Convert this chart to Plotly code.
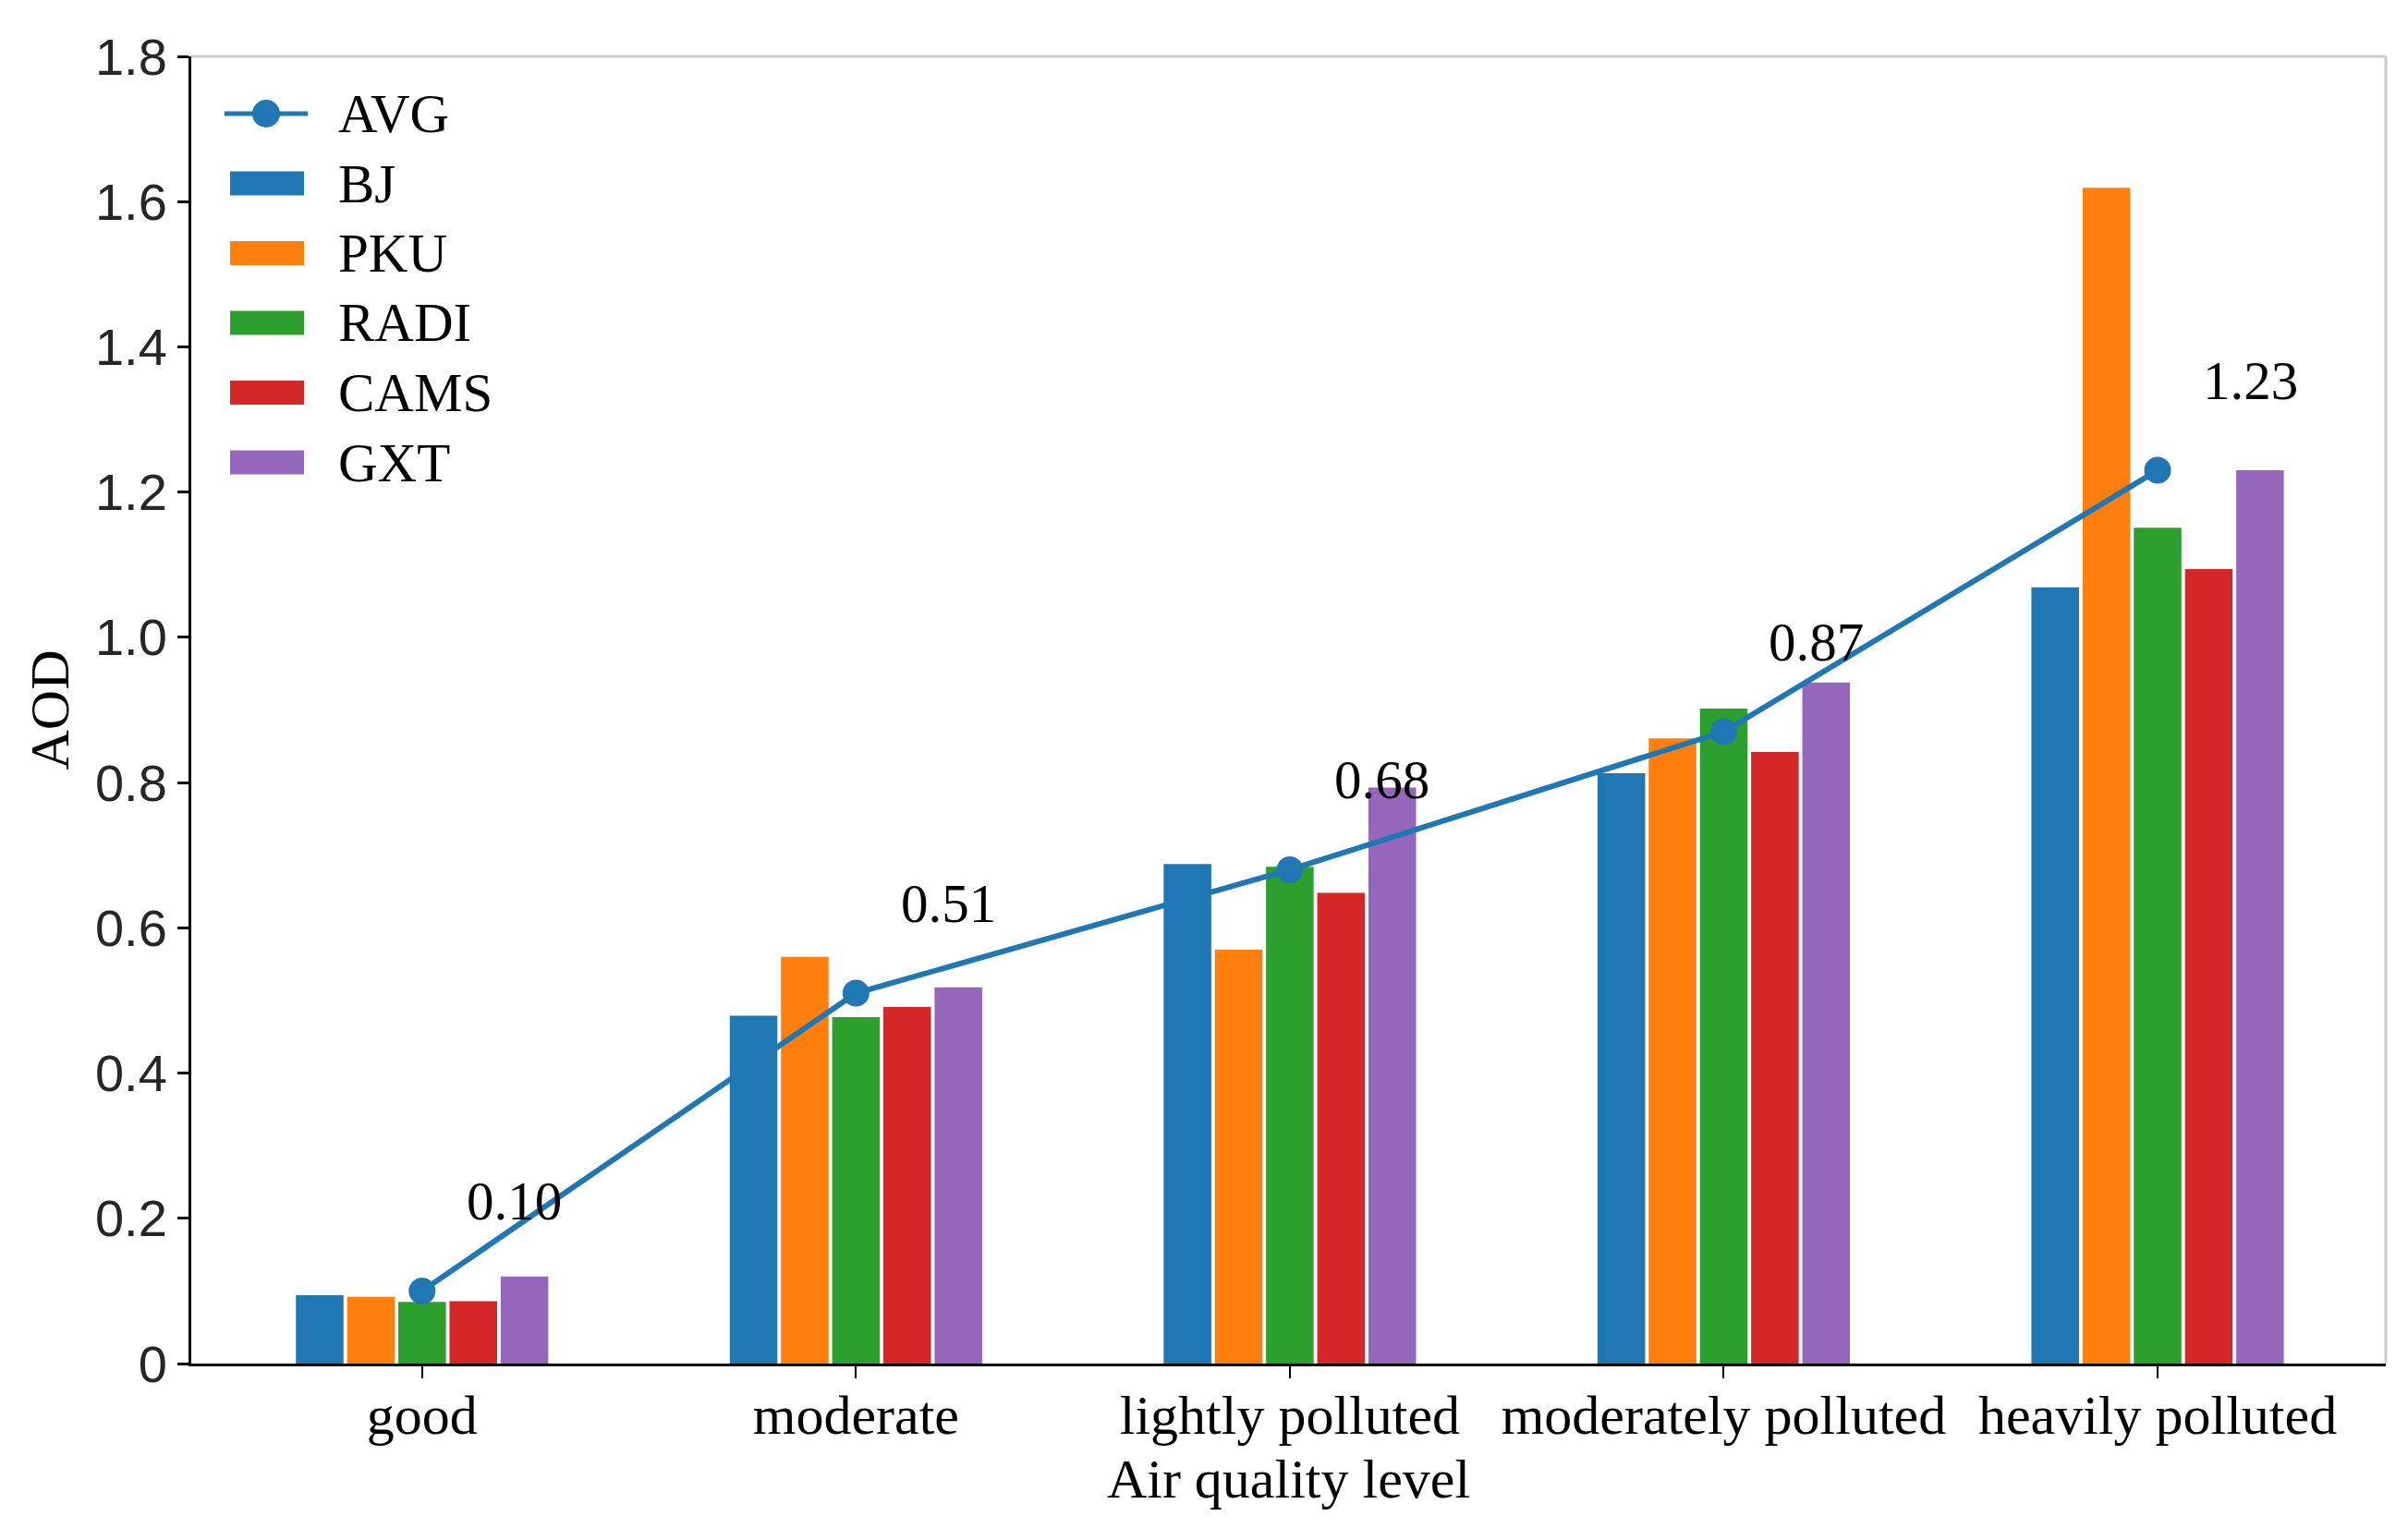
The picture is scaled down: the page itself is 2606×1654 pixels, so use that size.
import plotly.graph_objects as go

categories = ["good", "moderate", "lightly polluted", "moderately polluted", "heavily polluted"]
series_names = ["BJ", "PKU", "RADI", "CAMS", "GXT"]
BJ = [0.094, 0.479, 0.688, 0.813, 1.069]
PKU = [0.092, 0.560, 0.570, 0.861, 1.619]
RADI = [0.085, 0.477, 0.684, 0.902, 1.151]
CAMS = [0.086, 0.491, 0.648, 0.842, 1.094]
GXT = [0.120, 0.518, 0.793, 0.938, 1.230]
AVG = [0.10, 0.51, 0.68, 0.87, 1.23]
avg_labels = ["0.10", "0.51", "0.68", "0.87", "1.23"]
y_tickvals = [0, 0.2, 0.4, 0.6, 0.8, 1.0, 1.2, 1.4, 1.6, 1.8]
y_ticktext = ["0", "0.2", "0.4", "0.6", "0.8", "1.0", "1.2", "1.4", "1.6", "1.8"]

colors = ["#1f77b4", "#ff7f0e", "#2ca02c", "#d62728", "#9467bd"]
serif = "Liberation Serif, Times New Roman, serif"
sans = "Liberation Sans, Arial, sans-serif"

W, H = 2606, 1654
ML, MR, MT, MB = 199, 32, 53, 186
PW, PH = W - ML - MR, H - MT - MB


def px(x):
    return (x - ML) / PW


def py(y):
    return 1 - (y - MT) / PH


fig = go.Figure()
for name, vals, c in zip(series_names, [BJ, PKU, RADI, CAMS, GXT], colors):
    fig.add_trace(go.Bar(x=categories, y=vals, name=name, showlegend=False,
                         marker=dict(color=c, line=dict(width=0))))
fig.add_trace(go.Scatter(
    x=categories, y=AVG, name="AVG", mode="lines+markers", showlegend=False,
    line=dict(color="#1f77b4", width=6),
    marker=dict(size=29, color="#1f77b4"),
))

for cat, v, t in zip(categories, AVG, avg_labels):
    fig.add_annotation(x=cat, y=v, text=t, showarrow=False, xshift=100, yshift=97,
                       font=dict(family=serif, size=59, color="black"))

# custom legend (wide swatches like the reference)
shapes = [
    dict(type="line", xref="paper", yref="paper", x0=0, x1=1, y0=1, y1=1,
         line=dict(color="#cccccc", width=3)),
    dict(type="line", xref="paper", yref="paper", x0=1, x1=1, y0=0, y1=1,
         line=dict(color="#cccccc", width=3)),
]
leg_y0 = 115
leg_dy = 75.5
shapes.append(dict(type="line", xref="paper", yref="paper", x0=px(235), x1=px(325),
                   y0=py(leg_y0), y1=py(leg_y0), line=dict(color="#1f77b4", width=5)))
shapes.append(dict(type="circle", xref="paper", yref="paper", x0=px(280 - 15), x1=px(280 + 15),
                   y0=py(leg_y0 - 15), y1=py(leg_y0 + 15), fillcolor="#1f77b4",
                   line=dict(width=0)))
fig.add_annotation(xref="paper", yref="paper", x=px(356), y=py(leg_y0), text="AVG",
                   xanchor="left", yanchor="middle", showarrow=False,
                   font=dict(family=serif, size=59, color="black"))
for i, (name, c) in enumerate(zip(series_names, colors)):
    cy = leg_y0 + leg_dy * (i + 1)
    shapes.append(dict(type="rect", xref="paper", yref="paper", x0=px(241), x1=px(321),
                       y0=py(cy - 13), y1=py(cy + 13), fillcolor=c, line=dict(width=0)))
    fig.add_annotation(xref="paper", yref="paper", x=px(356), y=py(cy), text=name,
                       xanchor="left", yanchor="middle", showarrow=False,
                       font=dict(family=serif, size=59, color="black"))

fig.update_layout(
    width=W, height=H,
    margin=dict(l=ML, r=MR, t=MT, b=MB),
    paper_bgcolor="white", plot_bgcolor="white",
    barmode="group", bargap=0.41, bargroupgap=0.07,
    showlegend=False,
    shapes=shapes,
)
fig.update_xaxes(
    range=[-0.532, 4.526], showline=True, linecolor="black", linewidth=3,
    ticks="outside", ticklen=13, tickwidth=2, tickcolor="black",
    ticklabelstandoff=-12,
    tickfont=dict(family=serif, size=60, color="black"),
    title=dict(text="Air quality level", font=dict(family=serif, size=60, color="black"), standoff=15),
    showgrid=False, zeroline=False,
)
fig.update_yaxes(
    range=[0, 1.8], tickvals=y_tickvals, ticktext=y_ticktext,
    showline=True, linecolor="black", linewidth=3,
    ticks="outside", ticklen=12, tickwidth=3, tickcolor="black",
    tickfont=dict(family=sans, size=56, color="#262626"),
    title=dict(text="AOD", font=dict(family=serif, size=60, color="black"), standoff=9),
    showgrid=False, zeroline=False,
)

fig.write_html("out.html")
